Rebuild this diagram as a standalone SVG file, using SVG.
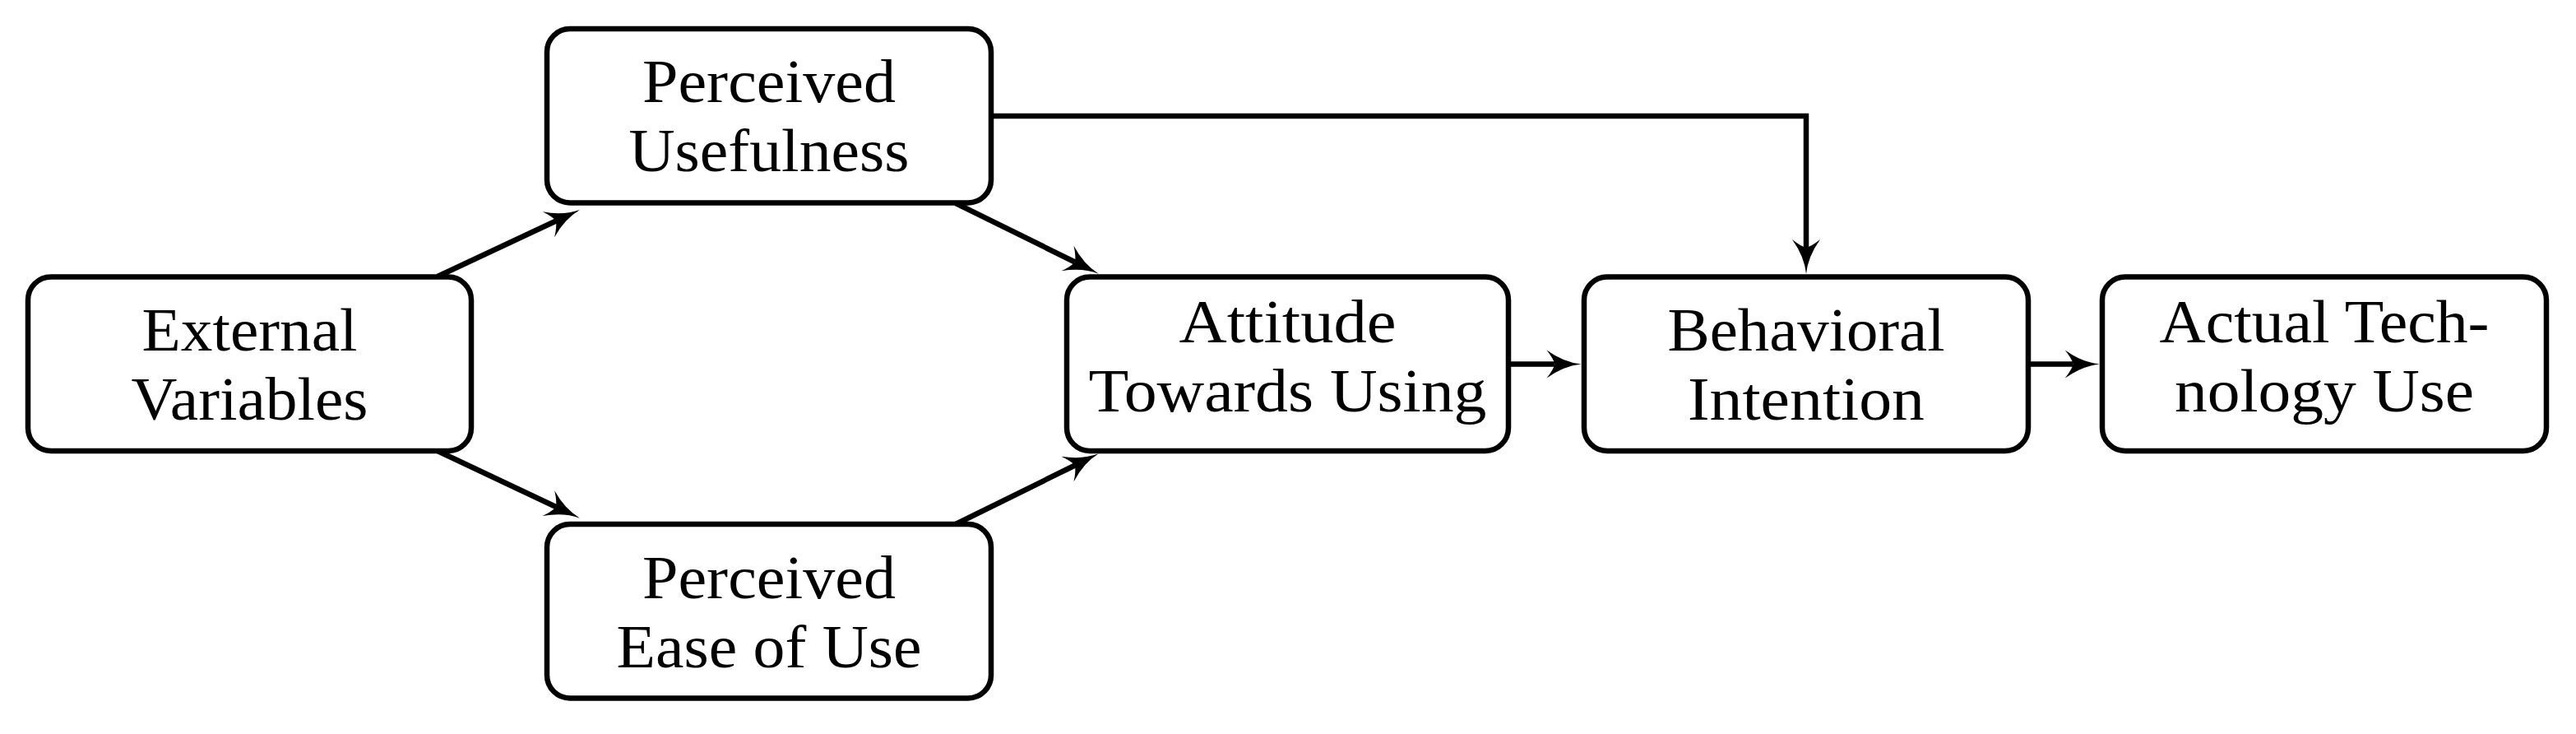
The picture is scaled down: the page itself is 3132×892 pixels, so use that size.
<svg xmlns="http://www.w3.org/2000/svg" width="3132" height="892" viewBox="0 0 3132 892">
<style>
.box{fill:#fff;stroke:#000;stroke-width:6.5}
.lbl{font-family:"Liberation Serif","Times New Roman",serif;font-size:74px;fill:#000;text-anchor:middle}
.conn{fill:none;stroke:#000;stroke-width:6.5;stroke-linejoin:miter}
</style>
<defs>
<marker id="arr" markerUnits="userSpaceOnUse" viewBox="-14 -20 50 40" refX="0" refY="0" markerWidth="50" markerHeight="40" orient="auto" overflow="visible">
<path d="M32,0 Q11,-2 -10,-17 Q-2,-7 0,0 Q-2,7 -10,17 Q11,2 32,0 Z" fill="#000"/>
</marker>
</defs>
<rect width="3132" height="892" fill="#fff"/>
<g id="connectors">
<path class="conn" d="M532,336 L676,268.5" marker-end="url(#arr)"/>
<path class="conn" d="M532,548 L676,616" marker-end="url(#arr)"/>
<path class="conn" d="M1162,247 L1307,318.5" marker-end="url(#arr)"/>
<path class="conn" d="M1162,637 L1307,565.5" marker-end="url(#arr)"/>
<path class="conn" d="M1834,442.5 L1890.5,442.5" marker-end="url(#arr)"/>
<path class="conn" d="M2466,442.5 L2520.75,442.5" marker-end="url(#arr)"/>
<path class="conn" d="M1205,141 L2196,141 L2196,301" marker-end="url(#arr)"/>
</g>
<g id="external">
<rect class="box" x="34" y="336.5" width="539" height="211.5" rx="28"/>
<text class="lbl" x="303.5" y="426" textLength="262" lengthAdjust="spacingAndGlyphs">External</text>
<text class="lbl" x="303.5" y="510" textLength="288" lengthAdjust="spacingAndGlyphs">Variables</text>
</g>
<g id="usefulness">
<rect class="box" x="665" y="35" width="540" height="211.5" rx="28"/>
<text class="lbl" x="935" y="124" textLength="308" lengthAdjust="spacingAndGlyphs">Perceived</text>
<text class="lbl" x="935" y="208" textLength="341" lengthAdjust="spacingAndGlyphs">Usefulness</text>
</g>
<g id="ease">
<rect class="box" x="665" y="637" width="540" height="211.5" rx="28"/>
<text class="lbl" x="935" y="727" textLength="308" lengthAdjust="spacingAndGlyphs">Perceived</text>
<text class="lbl" x="935" y="811" textLength="371" lengthAdjust="spacingAndGlyphs">Ease of Use</text>
</g>
<g id="attitude">
<rect class="box" x="1297" y="336.5" width="537" height="211.5" rx="28"/>
<text class="lbl" x="1565.5" y="416" textLength="264" lengthAdjust="spacingAndGlyphs">Attitude</text>
<text class="lbl" x="1565.5" y="500" textLength="484" lengthAdjust="spacingAndGlyphs">Towards Using</text>
</g>
<g id="behavioral">
<rect class="box" x="1926" y="336.5" width="540" height="211.5" rx="28"/>
<text class="lbl" x="2196" y="426" textLength="337" lengthAdjust="spacingAndGlyphs">Behavioral</text>
<text class="lbl" x="2196" y="510" textLength="288" lengthAdjust="spacingAndGlyphs">Intention</text>
</g>
<g id="actual">
<rect class="box" x="2556" y="336.5" width="540" height="211.5" rx="28"/>
<text class="lbl" x="2826" y="416" textLength="401" lengthAdjust="spacingAndGlyphs">Actual Tech-</text>
<text class="lbl" x="2826" y="500" textLength="364" lengthAdjust="spacingAndGlyphs">nology Use</text>
</g>
</svg>
